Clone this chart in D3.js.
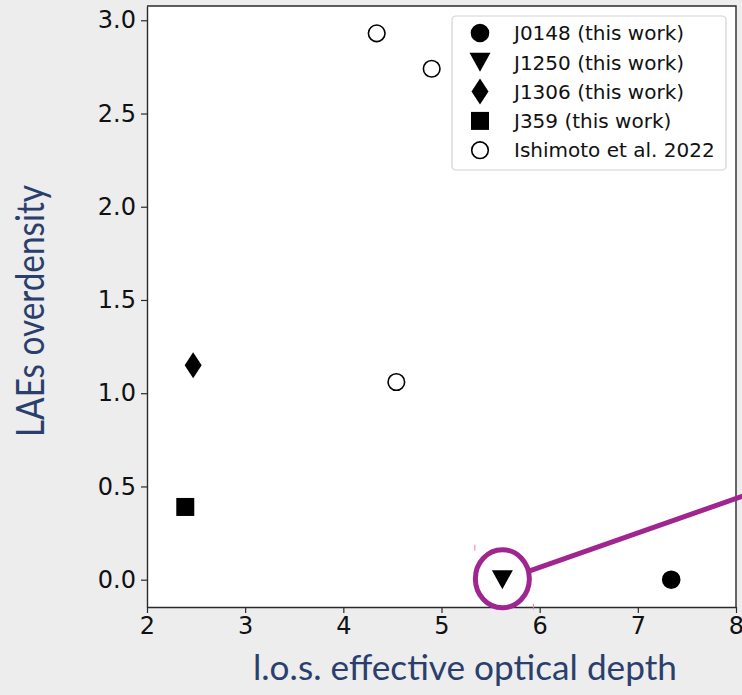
<!DOCTYPE html>
<html>
<head>
<meta charset="utf-8">
<script src="https://cdn.jsdelivr.net/npm/d3@7"></script>
<style>
  html, body { margin: 0; padding: 0; background: #ededed; }
  svg { display: block; }
</style>
</head>
<body>
<div id="chart"></div>
<script>
// LAE overdensity vs. line-of-sight effective optical depth
const sources = ["J0148 (this work)", "J1250 (this work)", "J1306 (this work)", "J359 (this work)"];
const sourceTau = [7.34, 5.62, 2.47, 2.39];
const sourceDelta = [0.0, 0.0, 1.15, 0.39];
const sourceSymbols = ["circle", "triangleDown", "diamond", "square"];

const ishimotoLabel = "Ishimoto et al. 2022";
const ishimotoTau = [4.34, 4.90, 4.54];
const ishimotoDelta = [2.93, 2.74, 1.06];

const xTicks = [2, 3, 4, 5, 6, 7, 8];
const yTicks = [0.0, 0.5, 1.0, 1.5, 2.0, 2.5, 3.0];
const xDomain = [2, 8];
const yDomain = [-0.1465, 3.0765];

const xTitle = "l.o.s. effective optical depth";
const yTitle = "LAEs overdensity";
const highlighted = 1; // J1250 is circled and linked out of the panel

const W = 742, H = 695;
const margin = { left: 147, right: 6, top: 6, bottom: 88 };
const navy = "#2b3f6d";
const purple = "#a0258e";

const svg = d3.select("#chart").append("svg")
  .attr("width", W).attr("height", H);

svg.append("rect").attr("width", W).attr("height", H).attr("fill", "#ededed");

const x = d3.scaleLinear().domain(xDomain).range([margin.left, W - margin.right]);
const y = d3.scaleLinear().domain(yDomain).range([H - margin.bottom, margin.top]);

// plot background
svg.append("rect")
  .attr("x", x(xDomain[0])).attr("y", y(yDomain[1]))
  .attr("width", x(xDomain[1]) - x(xDomain[0]))
  .attr("height", y(yDomain[0]) - y(yDomain[1]))
  .attr("fill", "#ffffff");

// axes
const xAxis = svg.append("g")
  .attr("transform", `translate(0,${y(yDomain[0])})`)
  .call(d3.axisBottom(x).tickValues(xTicks).tickFormat(d3.format("d")).tickSize(6).tickSizeOuter(0).tickPadding(4));
const yAxis = svg.append("g")
  .attr("transform", `translate(${x(xDomain[0])},0)`)
  .call(d3.axisLeft(y).tickValues(yTicks).tickFormat(d3.format(".1f")).tickSize(6).tickSizeOuter(0).tickPadding(5));

[xAxis, yAxis].forEach(g => {
  g.select(".domain").attr("stroke", "#2a2a2a").attr("stroke-width", 1.4);
  g.selectAll(".tick line").attr("stroke", "#2a2a2a").attr("stroke-width", 1.2);
  g.selectAll(".tick text")
    .attr("fill", "#111")
    .style("font-family", "'DejaVu Sans', sans-serif")
    .style("font-size", "24px");
});

// top and right frame
svg.append("path")
  .attr("d", `M${x(xDomain[0])},${y(yDomain[1])}H${x(xDomain[1])}V${y(yDomain[0])}`)
  .attr("fill", "none").attr("stroke", "#2a2a2a").attr("stroke-width", 1.4);

// symbols
function markerPath(kind) {
  if (kind === "diamond") return "M0,-13L8.5,0L0,13L-8.5,0Z";
  if (kind === "triangleDown") return "M-10.5,-9.5L10.5,-9.5L0,9.5Z";
  if (kind === "square") return "M-9,-9H9V9H-9Z";
  return d3.symbol().type(d3.symbolCircle).size(Math.PI * 9.3 * 9.3)();
}

const plot = svg.append("g");

plot.selectAll("circle.ishimoto")
  .data(ishimotoTau.map((t, i) => ({ t, d: ishimotoDelta[i] })))
  .join("circle")
  .attr("class", "ishimoto")
  .attr("cx", d => x(d.t)).attr("cy", d => y(d.d)).attr("r", 8.3)
  .attr("fill", "#fff").attr("stroke", "#000").attr("stroke-width", 1.6);

plot.selectAll("path.source")
  .data(sources.map((s, i) => ({ s, t: sourceTau[i], d: sourceDelta[i], k: sourceSymbols[i] })))
  .join("path")
  .attr("class", "source")
  .attr("transform", d => `translate(${x(d.t)},${y(d.d)})`)
  .attr("d", d => markerPath(d.k))
  .attr("fill", "#000");

// legend
const lg = svg.append("g");
const lgX = 452, lgY = 16, lgW = 274, lgH = 154;
lg.append("rect")
  .attr("x", lgX).attr("y", lgY).attr("width", lgW).attr("height", lgH)
  .attr("rx", 4).attr("fill", "#fff").attr("fill-opacity", 0.85)
  .attr("stroke", "#d2d2d2").attr("stroke-width", 1.2);

const legendItems = sources.map((s, i) => ({ label: s, kind: sourceSymbols[i], open: false }))
  .concat([{ label: ishimotoLabel, kind: "circle", open: true }]);
const rowY = i => lgY + 17 + i * 29.3;

legendItems.forEach((it, i) => {
  const gy = rowY(i);
  if (it.open) {
    lg.append("circle").attr("cx", lgX + 28).attr("cy", gy).attr("r", 8.3)
      .attr("fill", "#fff").attr("stroke", "#000").attr("stroke-width", 1.6);
  } else {
    lg.append("path").attr("transform", `translate(${lgX + 28},${gy})`)
      .attr("d", markerPath(it.kind)).attr("fill", "#000");
  }
  lg.append("text")
    .attr("x", lgX + 62).attr("y", gy)
    .attr("dy", "0.36em")
    .attr("fill", "#111")
    .style("font-family", "'DejaVu Sans', sans-serif")
    .style("font-size", "20px")
    .text(it.label);
});

// highlight of J1250 with a call-out line leaving the panel
const hx = x(sourceTau[highlighted]), hy = y(sourceDelta[highlighted]);
svg.append("ellipse")
  .attr("cx", hx).attr("cy", hy - 1).attr("rx", 27).attr("ry", 29)
  .attr("fill", "none").attr("stroke", purple).attr("stroke-width", 5);
svg.append("line")
  .attr("x1", hx + 28).attr("y1", hy - 9)
  .attr("x2", W + 2).attr("y2", hy - 84)
  .attr("stroke", purple).attr("stroke-width", 5);
// faint selection handles
svg.append("line").attr("x1", hx - 27.5).attr("x2", hx - 27.5)
  .attr("y1", hy - 35).attr("y2", hy - 29).attr("stroke", "#e27cc8").attr("stroke-width", 1);
svg.append("line").attr("x1", hx + 31).attr("x2", hx + 31)
  .attr("y1", hy + 24).attr("y2", hy + 30).attr("stroke", "#e27cc8").attr("stroke-width", 1);

// axis titles
svg.append("text")
  .attr("x", 465).attr("y", 680)
  .attr("text-anchor", "middle")
  .attr("fill", navy)
  .attr("textLength", 424).attr("lengthAdjust", "spacingAndGlyphs")
  .style("font-family", "Lato, 'Open Sans', sans-serif")
  .style("font-size", "34px")
  .text(xTitle);

svg.append("text")
  .attr("transform", "translate(44,311) rotate(-90)")
  .attr("text-anchor", "middle")
  .attr("fill", navy)
  .attr("textLength", 252).attr("lengthAdjust", "spacingAndGlyphs")
  .style("font-family", "Lato, 'Open Sans', sans-serif")
  .style("font-size", "38px")
  .text(yTitle);
</script>
</body>
</html>
